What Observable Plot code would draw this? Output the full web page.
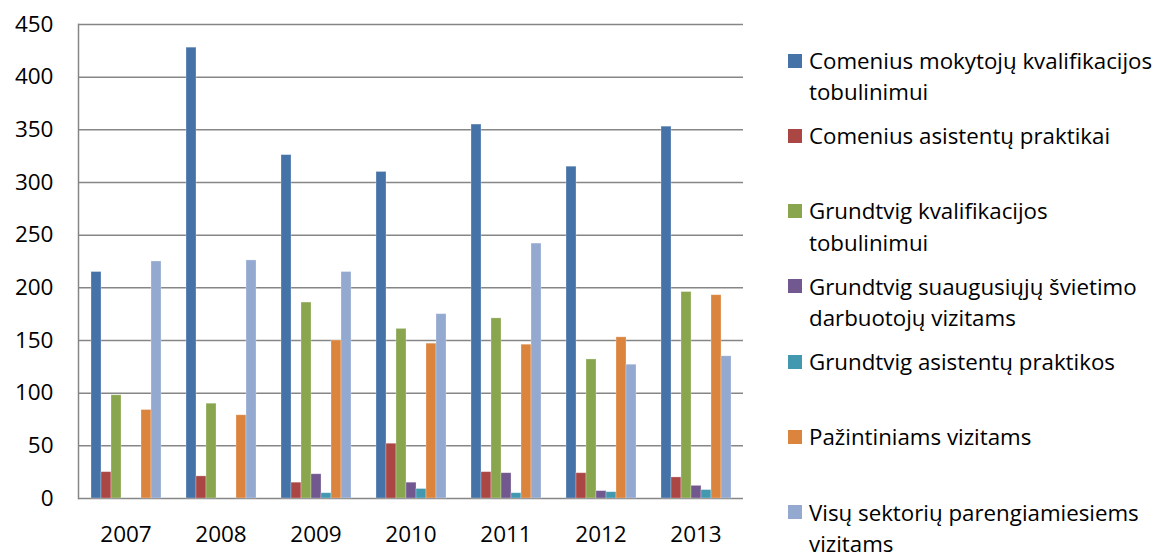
<!DOCTYPE html>
<html>
<head>
<meta charset="utf-8">
<script src="https://cdn.jsdelivr.net/npm/d3@7"></script>
<script src="https://cdn.jsdelivr.net/npm/@observablehq/plot@0.6"></script>
<style>
  html, body { margin: 0; padding: 0; background: #fff; }
  #wrap { position: relative; width: 1171px; height: 554px; overflow: hidden; font-family: "Open Sans", sans-serif; }
  #chart { position: absolute; left: 0; top: 0; }
  #legend { position: absolute; left: 788px; top: 0; width: 383px; }
  .item { position: absolute; left: 0; display: flex; align-items: flex-start; }
  .sw { width: 14px; height: 14px; margin-top: 7.5px; margin-right: 7px; flex: none; }
  .lab { width: 362px; font-size: 22.3px; line-height: 29px; color: #000; }
  .lab .l2 { display: block; margin-top: 3px; }
</style>
</head>
<body>
<div id="wrap">
  <div id="chart"></div>
  <div id="legend"></div>
</div>
<script>
const years = ["2007", "2008", "2009", "2010", "2011", "2012", "2013"];
const seriesNames = [
  "Comenius mokytojų kvalifikacijos tobulinimui",
  "Comenius asistentų praktikai",
  "Grundtvig kvalifikacijos tobulinimui",
  "Grundtvig suaugusiųjų švietimo darbuotojų vizitams",
  "Grundtvig asistentų praktikos",
  "Pažintiniams vizitams",
  "Visų sektorių parengiamiesiems vizitams"
];
const colors = ["#4572A7", "#AA4643", "#89A54E", "#71588F", "#4198AF", "#DB843D", "#93A9CF"];
const comeniusMokytoju   = [215, 428, 326, 310, 355, 315, 353];
const comeniusAsistentu  = [25, 21, 15, 52, 25, 24, 20];
const grundtvigKval      = [98, 90, 186, 161, 171, 132, 196];
const grundtvigSuaug     = [0, 0, 23, 15, 24, 7, 12];
const grundtvigAsist     = [0, 0, 5, 9, 5, 6, 8];
const pazintiniams       = [84, 79, 150, 147, 146, 153, 193];
const visuSektoriu       = [225, 226, 215, 175, 242, 127, 135];
const yTicks = [0, 50, 100, 150, 200, 250, 300, 350, 400, 450];

const seriesValues = [comeniusMokytoju, comeniusAsistentu, grundtvigKval, grundtvigSuaug, grundtvigAsist, pazintiniams, visuSektoriu];
const rows = [];
years.forEach((year, yi) => {
  seriesNames.forEach((s, si) => {
    rows.push({year, series: s, value: seriesValues[si][yi]});
  });
});

const chart = Plot.plot({
  width: 760,
  height: 554,
  marginLeft: 77,
  marginRight: 17,
  marginTop: 24,
  marginBottom: 56,
  style: {fontFamily: "'Open Sans', sans-serif", color: "#000", background: "transparent"},
  fx: {domain: years, padding: 0, axis: null},
  x: {domain: seriesNames, paddingInner: 0, paddingOuter: 0.83, axis: null},
  y: {domain: [0, 450], axis: null},
  color: {domain: seriesNames, range: colors},
  marks: [
    Plot.ruleY(yTicks, {y: d => d, stroke: "#868686", strokeWidth: 1.5}),
    Plot.barY(rows, {fx: "year", x: "series", y: "value", fill: "series", stroke: "#ffffff", strokeOpacity: 0.35, strokeWidth: 0.8}),
    Plot.frame({anchor: "left", stroke: "#868686", strokeWidth: 1.5, facet: "super"}),
    Plot.axisY(yTicks, {tickSize: 0, tickPadding: 25, fontSize: 22.5, label: null}),
    Plot.axisFx({anchor: "bottom", tickSize: 0, tickPadding: 28, fontSize: 22.5, label: null})
  ]
});
document.getElementById("chart").appendChild(chart);

const legend = document.getElementById("legend");
seriesNames.forEach((name, i) => {
  const item = document.createElement("div");
  item.className = "item";
  item.style.top = (46 + i * 75.3) + "px";
  const sw = document.createElement("div");
  sw.className = "sw";
  sw.style.background = colors[i];
  const lab = document.createElement("div");
  lab.className = "lab";
  lab.style.lineHeight = "29px";
  lab.textContent = name;
  item.appendChild(sw);
  item.appendChild(lab);
  legend.appendChild(item);
});
// spacing between wrapped lines like the reference (~32px) while keeping boxes inside the page
document.querySelectorAll(".lab").forEach(el => { el.style.lineHeight = "31.5px"; el.style.marginTop = "-1.25px"; });
document.querySelectorAll(".item").forEach(el => { el.style.height = "auto"; });
</script>
</body>
</html>
